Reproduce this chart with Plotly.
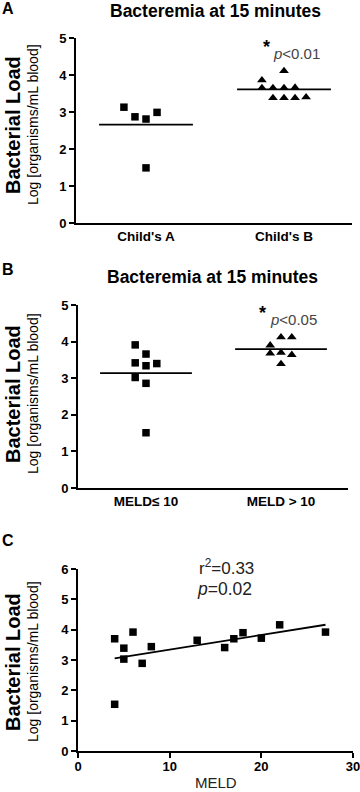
import numpy as np
import plotly.graph_objects as go

# ---------------- data ----------------
cat_labels_a = ["Child's A", "Child's B"]
child_a = [3.13, 2.87, 2.81, 2.99, 1.49]
child_a_slot = [-2, -1, 0, 1, 0]
child_b = [3.86, 4.11, 3.65, 3.65, 3.65, 3.66, 3.38, 3.38, 3.38, 3.40]
child_b_slot = [-2, 0, -2, -1, 0, 1, -1, 0, 1, 2]

cat_labels_b = ["MELD\u2264 10", "MELD > 10"]
meld_low = [3.91, 3.66, 3.42, 3.34, 3.40, 3.02, 2.86, 1.51]
meld_low_slot = [-1, 0, -1, 0, 1, -1, 0, 0]
meld_high = [4.12, 4.12, 3.90, 3.68, 3.70, 3.64, 3.39]
meld_high_slot = [0, 1, -1, -1, 0, 1, 0]

meld_x = [4, 4, 5, 5, 6, 7, 8, 13, 16, 17, 18, 20, 22, 27]
meld_y = [3.70, 1.54, 3.39, 3.03, 3.92, 2.89, 3.44, 3.65, 3.41, 3.70, 3.90, 3.72, 4.16, 3.92]

W, H = 360, 792
FONT = "Liberation Sans, Arial, sans-serif"


def px(p):
    return p / W


def py(p):
    return 1 - p / H


fig = go.Figure()

SLOT = 0.08
HALF = 0.34


def column(vals, slots, cat, symbol, size, xa, ya):
    xs = [cat + s * SLOT for s in slots]
    fig.add_trace(go.Scatter(x=xs, y=vals, mode="markers", xaxis=xa, yaxis=ya,
                             marker=dict(symbol=symbol, size=size, color="black"),
                             cliponaxis=False, showlegend=False, hoverinfo="y"))
    m = float(np.mean(vals))
    fig.add_trace(go.Scatter(x=[cat - HALF, cat + HALF], y=[m, m], mode="lines",
                             xaxis=xa, yaxis=ya, line=dict(color="black", width=1.8),
                             showlegend=False, hoverinfo="skip"))


column(child_a, child_a_slot, 1, "square", 7.5, "x", "y")
column(child_b, child_b_slot, 2, "triangle-up", 8.5, "x", "y")
column(meld_low, meld_low_slot, 1, "square", 7.5, "x2", "y2")
column(meld_high, meld_high_slot, 2, "triangle-up", 8.5, "x2", "y2")

fig.add_trace(go.Scatter(x=meld_x, y=meld_y, mode="markers", xaxis="x3", yaxis="y3",
                         marker=dict(symbol="square", size=7.5, color="black"),
                         cliponaxis=False, showlegend=False))
slope, icpt = np.polyfit(meld_x, meld_y, 1)
lx = np.array([min(meld_x), max(meld_x)])
fig.add_trace(go.Scatter(x=lx, y=slope * lx + icpt, mode="lines", xaxis="x3", yaxis="y3",
                         line=dict(color="black", width=1.8), showlegend=False))

tickfont = dict(family=FONT, size=13, color="black", weight="bold")
common_y = dict(showline=True, linewidth=2, linecolor="black", ticks="outside",
                ticklen=5, tickwidth=2, tickcolor="black", showgrid=False,
                zeroline=False, tickfont=tickfont, fixedrange=True, automargin=False)
common_x = dict(showline=True, linewidth=2, linecolor="black", showgrid=False,
                zeroline=False, fixedrange=True, automargin=False)

catfont = dict(family=FONT, size=13.5, color="black", weight="bold")

fig.update_layout(
    width=W, height=H, margin=dict(l=0, r=0, t=0, b=0, autoexpand=False),
    paper_bgcolor="white", plot_bgcolor="white",
    xaxis=dict(domain=[px(76), px(352)], range=[1 - 70 / 138, 3 - 70 / 138],
               tickvals=[1, 2], ticktext=cat_labels_a, ticks="", tickfont=catfont,
               anchor="y", **common_x),
    yaxis=dict(domain=[py(223), py(38)], range=[0, 5], dtick=1, anchor="x", **common_y),
    xaxis2=dict(domain=[px(78), px(348)], range=[1 - 68 / 135, 3 - 68 / 135],
                tickvals=[1, 2], ticktext=cat_labels_b, ticks="", tickfont=catfont,
                anchor="y2", **common_x),
    yaxis2=dict(domain=[py(488), py(305)], range=[0, 5], dtick=1, anchor="x2", **common_y),
    xaxis3=dict(domain=[px(78), px(353)], range=[0, 30], dtick=10, ticks="outside",
                ticklen=5, tickwidth=2, tickcolor="black", tickfont=tickfont,
                ticklabelstandoff=-3, ticklabeloverflow="allow",
                anchor="y3", **common_x),
    yaxis3=dict(domain=[py(751), py(569)], range=[0, 6], dtick=1, anchor="x3", **common_y),
)

ann = []


def text(x, y, t, size, bold=False, color="black", angle=0, xanchor="center",
         yanchor="middle"):
    ann.append(dict(x=px(x), y=py(y), xref="paper", yref="paper", text=t,
                    showarrow=False, textangle=angle, xanchor=xanchor, yanchor=yanchor,
                    font=dict(family=FONT, size=size, color=color,
                              weight="bold" if bold else "normal")))


for lab, yy in [("A", 9), ("B", 270), ("C", 540)]:
    text(8, yy, lab, 16, bold=True)

text(215, 11, "Bacteremia at 15 minutes", 17.5, bold=True)
text(212, 277, "Bacteremia at 15 minutes", 17.5, bold=True)

for yc in [125, 394, 662]:
    text(13, yc, "Bacterial Load", 20, bold=True, angle=-90)
    text(33, yc, "Log [organisms/mL blood]", 14, angle=-90)

text(266, 47, "*", 18, bold=True)
text(271, 53, "<i>p</i><0.01", 15, color="#444", xanchor="left")
text(262, 313, "*", 18, bold=True)
text(268, 319, "<i>p</i><0.05", 15, color="#444", xanchor="left")

text(226, 567, "r<sup>2</sup>=0.33", 17, color="#222")
text(224, 589, "<i>p</i>=0.02", 17.5, color="#222")
text(216, 782, "MELD", 15, color="#222")

fig.update_layout(annotations=ann)
fig.write_html("out.html", config={"displayModeBar": False},
               post_script="document.body.style.margin='0';document.body.style.overflow='hidden';")
